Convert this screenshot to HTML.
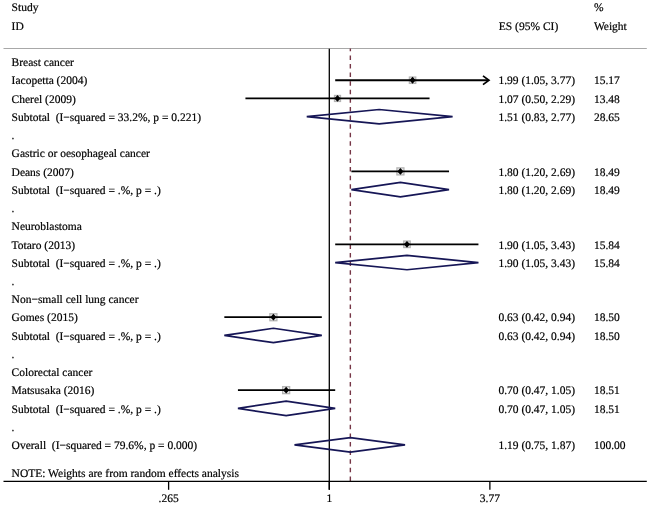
<!DOCTYPE html>
<html><head><meta charset="utf-8"><style>
html,body{margin:0;padding:0;background:#fff;}
svg{display:block;will-change:transform;}
text{font-family:"Liberation Serif",serif;font-size:11.5px;fill:#000;white-space:pre;text-rendering:geometricPrecision;stroke:#000;stroke-width:0.2px;}
</style></head><body>
<svg width="650" height="507" viewBox="0 0 650 507" xml:space="preserve">
<rect width="650" height="507" fill="#fff"/>
<line x1="3.5" y1="48.5" x2="646.8" y2="48.5" stroke="#a8a8a8" stroke-width="1.2"/>
<line x1="329.30" y1="48.8" x2="329.30" y2="489.8" stroke="#000" stroke-width="1.3"/>
<line x1="350.35" y1="48.5" x2="350.35" y2="481" stroke="#763646" stroke-width="1.4" stroke-dasharray="4.5 4.092" stroke-dashoffset="1.7"/>
<rect x="409.39" y="77.06" width="6.34" height="6.34" fill="#ececec" stroke="#b4b4b4" stroke-width="1.3"/>
<rect x="334.50" y="95.47" width="5.98" height="5.98" fill="#ececec" stroke="#b4b4b4" stroke-width="1.3"/>
<rect x="396.92" y="167.88" width="7.00" height="7.00" fill="#ececec" stroke="#b4b4b4" stroke-width="1.3"/>
<rect x="403.73" y="241.06" width="6.48" height="6.48" fill="#ececec" stroke="#b4b4b4" stroke-width="1.3"/>
<rect x="269.89" y="313.72" width="7.00" height="7.00" fill="#ececec" stroke="#b4b4b4" stroke-width="1.3"/>
<rect x="282.64" y="386.64" width="7.00" height="7.00" fill="#ececec" stroke="#b4b4b4" stroke-width="1.3"/>
<line x1="335.20" y1="80.23" x2="487.98" y2="80.23" stroke="#000" stroke-width="1.8"/>
<polyline points="482.98,75.83 488.98,80.23 482.98,84.63" fill="none" stroke="#000" stroke-width="1.7"/>
<line x1="245.43" y1="98.46" x2="429.55" y2="98.46" stroke="#000" stroke-width="1.8"/>
<line x1="351.36" y1="171.38" x2="449.03" y2="171.38" stroke="#000" stroke-width="1.8"/>
<line x1="335.20" y1="244.30" x2="478.44" y2="244.30" stroke="#000" stroke-width="1.8"/>
<line x1="224.33" y1="317.22" x2="321.81" y2="317.22" stroke="#000" stroke-width="1.8"/>
<line x1="237.94" y1="390.14" x2="335.20" y2="390.14" stroke="#000" stroke-width="1.8"/>
<polygon points="409.46,80.23 412.56,76.83 415.66,80.23 412.56,83.63" fill="#000"/>
<polygon points="334.39,98.46 337.49,95.06 340.59,98.46 337.49,101.86" fill="#000"/>
<polygon points="306.75,116.69 379.17,109.49 452.58,116.69 379.17,123.89" fill="none" stroke="#161656" stroke-width="1.7" stroke-linejoin="miter"/>
<polygon points="397.32,171.38 400.42,167.98 403.52,171.38 400.42,174.78" fill="#000"/>
<polygon points="351.36,189.61 400.42,182.41 449.03,189.61 400.42,196.81" fill="none" stroke="#161656" stroke-width="1.7" stroke-linejoin="miter"/>
<polygon points="403.86,244.30 406.96,240.90 410.06,244.30 406.96,247.70" fill="#000"/>
<polygon points="335.20,262.53 406.96,255.33 478.44,262.53 406.96,269.73" fill="none" stroke="#161656" stroke-width="1.7" stroke-linejoin="miter"/>
<polygon points="270.29,317.22 273.39,313.82 276.49,317.22 273.39,320.62" fill="#000"/>
<polygon points="224.33,335.45 273.39,328.25 321.81,335.45 273.39,342.65" fill="none" stroke="#161656" stroke-width="1.7" stroke-linejoin="miter"/>
<polygon points="283.04,390.14 286.14,386.74 289.24,390.14 286.14,393.54" fill="#000"/>
<polygon points="237.94,408.37 286.14,401.17 335.20,408.37 286.14,415.57" fill="none" stroke="#161656" stroke-width="1.7" stroke-linejoin="miter"/>
<polygon points="294.49,444.83 350.35,437.63 405.04,444.83 350.35,452.03" fill="none" stroke="#161656" stroke-width="1.7" stroke-linejoin="miter"/>
<line x1="3.5" y1="481.4" x2="646.8" y2="481.4" stroke="#000" stroke-width="1.4"/>
<line x1="168.61" y1="481.4" x2="168.61" y2="489.8" stroke="#000" stroke-width="1.3"/>
<line x1="329.30" y1="481.4" x2="329.30" y2="489.8" stroke="#000" stroke-width="1.3"/>
<line x1="489.88" y1="481.4" x2="489.88" y2="489.8" stroke="#000" stroke-width="1.3"/>
<text x="11.60" y="11.40">Study</text>
<text x="11.60" y="29.70">ID</text>
<text x="498.80" y="29.70">ES (95% CI)</text>
<text x="593.90" y="11.40">%</text>
<text x="593.90" y="29.70">Weight</text>
<text x="11.60" y="66.20">Breast cancer</text>
<text x="11.60" y="84.43">Iacopetta (2004)</text>
<text x="498.40" y="84.43">1.99 (1.05, 3.77)</text>
<text x="593.90" y="84.43">15.17</text>
<text x="11.60" y="102.66">Cherel (2009)</text>
<text x="498.40" y="102.66">1.07 (0.50, 2.29)</text>
<text x="593.90" y="102.66">13.48</text>
<text x="11.60" y="120.89">Subtotal  (I−squared = 33.2%, p = 0.221)</text>
<text x="498.40" y="120.89">1.51 (0.83, 2.77)</text>
<text x="593.90" y="120.89">28.65</text>
<text x="11.60" y="139.12">.</text>
<text x="11.60" y="157.35">Gastric or oesophageal cancer</text>
<text x="11.60" y="175.58">Deans (2007)</text>
<text x="498.40" y="175.58">1.80 (1.20, 2.69)</text>
<text x="593.90" y="175.58">18.49</text>
<text x="11.60" y="193.81">Subtotal  (I−squared = .%, p = .)</text>
<text x="498.40" y="193.81">1.80 (1.20, 2.69)</text>
<text x="593.90" y="193.81">18.49</text>
<text x="11.60" y="212.04">.</text>
<text x="11.60" y="230.27">Neuroblastoma</text>
<text x="11.60" y="248.50">Totaro (2013)</text>
<text x="498.40" y="248.50">1.90 (1.05, 3.43)</text>
<text x="593.90" y="248.50">15.84</text>
<text x="11.60" y="266.73">Subtotal  (I−squared = .%, p = .)</text>
<text x="498.40" y="266.73">1.90 (1.05, 3.43)</text>
<text x="593.90" y="266.73">15.84</text>
<text x="11.60" y="284.96">.</text>
<text x="11.60" y="303.19">Non−small cell lung cancer</text>
<text x="11.60" y="321.42">Gomes (2015)</text>
<text x="498.40" y="321.42">0.63 (0.42, 0.94)</text>
<text x="593.90" y="321.42">18.50</text>
<text x="11.60" y="339.65">Subtotal  (I−squared = .%, p = .)</text>
<text x="498.40" y="339.65">0.63 (0.42, 0.94)</text>
<text x="593.90" y="339.65">18.50</text>
<text x="11.60" y="357.88">.</text>
<text x="11.60" y="376.11">Colorectal cancer</text>
<text x="11.60" y="394.34">Matsusaka (2016)</text>
<text x="498.40" y="394.34">0.70 (0.47, 1.05)</text>
<text x="593.90" y="394.34">18.51</text>
<text x="11.60" y="412.57">Subtotal  (I−squared = .%, p = .)</text>
<text x="498.40" y="412.57">0.70 (0.47, 1.05)</text>
<text x="593.90" y="412.57">18.51</text>
<text x="11.60" y="430.80">.</text>
<text x="11.60" y="449.03">Overall  (I−squared = 79.6%, p = 0.000)</text>
<text x="498.40" y="449.03">1.19 (0.75, 1.87)</text>
<text x="593.90" y="449.03">100.00</text>
<text x="11.60" y="476.60">NOTE: Weights are from random effects analysis</text>
<text x="168.61" y="501.60" text-anchor="middle">.265</text>
<text x="329.30" y="501.60" text-anchor="middle">1</text>
<text x="489.88" y="501.60" text-anchor="middle">3.77</text>
</svg>
</body></html>
